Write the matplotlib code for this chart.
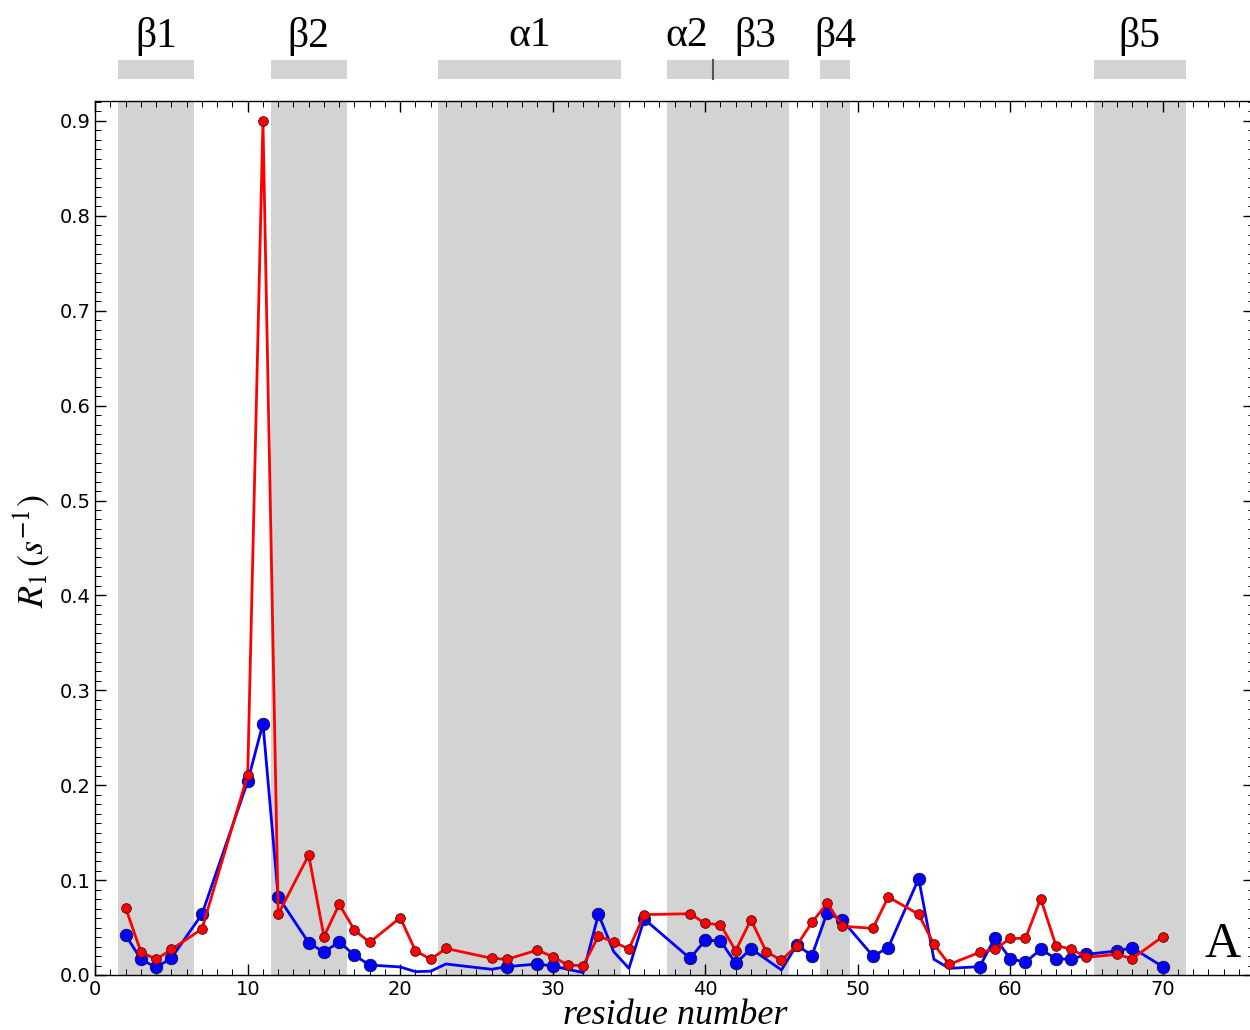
import matplotlib
matplotlib.use("Agg")
import matplotlib.pyplot as plt
from matplotlib.ticker import MultipleLocator
import matplotlib.transforms as mtransforms

# ---------------- data ----------------
blue_res = [2, 3, 4, 5, 7, 10, 11, 12, 14, 15, 16, 17, 18, 20, 21, 22, 23, 26, 27, 29, 30,
            32, 33, 34, 35, 36, 39, 40, 41, 42, 43, 45, 46, 47, 48, 49, 51, 52, 54, 55, 56,
            58, 59, 60, 61, 62, 63, 64, 65, 67, 68, 70]
blue_val = [0.042, 0.0165, 0.008, 0.018, 0.064, 0.204, 0.265, 0.0825, 0.034, 0.024, 0.035,
            0.0207, 0.0105, 0.0085, 0.0035, 0.004, 0.0116, 0.006, 0.0088, 0.0116, 0.0095,
            0.0025, 0.064, 0.0246, 0.007, 0.059, 0.0176, 0.0365, 0.036, 0.0123, 0.0277,
            0.0053, 0.0316, 0.0205, 0.0657, 0.0575, 0.020, 0.0288, 0.1015, 0.0165, 0.007,
            0.0088, 0.0393, 0.0172, 0.0134, 0.027, 0.0172, 0.0165, 0.0218, 0.0253, 0.0288, 0.0088]
# residues of the blue series that carry a marker
blue_marked = [2, 3, 4, 5, 7, 10, 11, 12, 14, 15, 16, 17, 18, 27, 29, 30, 33, 36, 39, 40, 41,
               42, 43, 46, 47, 48, 49, 51, 52, 54, 58, 59, 60, 61, 62, 63, 64, 65, 67, 68, 70]

red_res = [2, 3, 4, 5, 7, 10, 11, 12, 14, 15, 16, 17, 18, 20, 21, 22, 23, 26, 27, 29, 30, 31,
           32, 33, 34, 35, 36, 39, 40, 41, 42, 43, 44, 45, 46, 47, 48, 49, 51, 52, 54, 55, 56,
           58, 59, 60, 61, 62, 63, 64, 65, 67, 68, 70]
red_val = [0.0706, 0.0242, 0.0165, 0.027, 0.0485, 0.211, 0.900, 0.064, 0.1264, 0.0404, 0.0745,
           0.0474, 0.0344, 0.0604, 0.0256, 0.0165, 0.028, 0.0176, 0.0165, 0.0263, 0.0193, 0.0105,
           0.0098, 0.0411, 0.0348, 0.0274, 0.0636, 0.0646, 0.0544, 0.053, 0.0256, 0.0583, 0.0246,
           0.0155, 0.031, 0.0555, 0.0755, 0.0513, 0.0492, 0.0822, 0.064, 0.0323, 0.0112, 0.0239,
           0.027, 0.0386, 0.0386, 0.0804, 0.031, 0.0274, 0.0186, 0.0218, 0.0172, 0.0404]

# secondary structure elements
ss_labels = ["β1", "β2", "α1", "α2", "β3", "β4", "β5"]
ss_start = [1.5, 11.5, 22.5, 37.5, 40.5, 47.5, 65.5]
ss_end = [6.5, 16.5, 34.5, 40.5, 45.5, 49.5, 71.5]
ss_label_x = [4.0, 14.0, 28.5, 38.8, 43.3, 48.5, 68.5]

x_ticks = [0, 10, 20, 30, 40, 50, 60, 70]
y_ticks = [0.0, 0.1, 0.2, 0.3, 0.4, 0.5, 0.6, 0.7, 0.8, 0.9]

# ---------------- figure ----------------
plt.rcParams['mathtext.fontset'] = 'stix'
fig = plt.figure(figsize=(12.5, 10.3), dpi=100)
W, H = 1250, 1030
left_px, right_px, top_px, bot_px = 95.2, 1254.2, 101.0, 975.0
ax = fig.add_axes([left_px / W, 1 - bot_px / H, (right_px - left_px) / W, (bot_px - top_px) / H])

ax.set_xlim(0, 76)
ax.set_ylim(0, 0.921)

gray = '#d3d3d3'
for s, e in zip(ss_start, ss_end):
    ax.axvspan(s, e, color=gray, lw=0, zorder=0)

# top bars + labels
trans = mtransforms.blended_transform_factory(ax.transData, fig.transFigure)
bar_y0 = 1 - 79 / H
bar_h = 19 / H
for s, e in zip(ss_start, ss_end):
    ax.add_patch(plt.Rectangle((s, bar_y0), e - s, bar_h, transform=trans,
                               facecolor=gray, edgecolor='none', clip_on=False))
ax.plot([40.5, 40.5], [bar_y0, bar_y0 + bar_h], transform=trans, color='#555555',
        lw=1.5, clip_on=False)
for lab, lx in zip(ss_labels, ss_label_x):
    ax.text(lx, 1 - 36 / H, lab, transform=trans, ha='center', va='center',
            fontsize=30, family='Liberation Serif')

# series
marked_idx = [blue_res.index(r) for r in blue_marked]
ax.plot(blue_res, blue_val, color='#0000ff', lw=2.0, marker='o', ms=9,
        markerfacecolor='#0000ff', markeredgecolor='#101040', markeredgewidth=0.6,
        markevery=marked_idx, zorder=3)
ax.plot(red_res, red_val, color='#ff0000', lw=2.0, marker='o', ms=7,
        markerfacecolor='#ff0000', markeredgecolor='#401010', markeredgewidth=0.6,
        zorder=4)

# ticks
ax.set_xticks(x_ticks)
ax.set_yticks(y_ticks)
ax.set_yticklabels([f"{v:.1f}" for v in y_ticks])
ax.xaxis.set_minor_locator(MultipleLocator(1))
ax.yaxis.set_minor_locator(MultipleLocator(0.01))
ax.tick_params(which='both', direction='in', top=True, right=True, labelsize=14)
ax.tick_params(which='major', length=8, width=1)
ax.tick_params(which='minor', length=4, width=0.7)
for sp in ax.spines.values():
    sp.set_linewidth(1.0)

ax.set_xlabel('residue number', fontsize=26, family='Liberation Serif', style='italic',
              labelpad=0)
ax.set_ylabel(r'$R_1\,(s^{-1})$', fontsize=26)
ax.yaxis.set_label_coords(-0.037, 0.485)

ax.text(73.9, 0.019, 'A', fontsize=36, family='Liberation Serif', ha='center', va='baseline')

fig.savefig('out.png', dpi=100)
